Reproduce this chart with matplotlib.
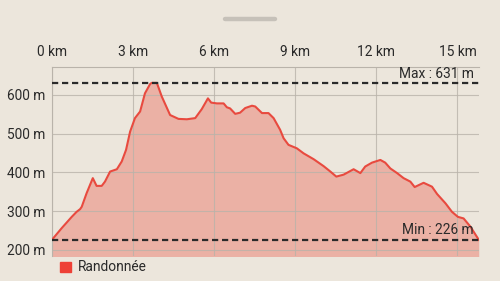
import matplotlib
matplotlib.use("Agg")
import matplotlib.pyplot as plt
from matplotlib.lines import Line2D
from matplotlib.patches import Rectangle

# elevation profile
dist_km = [0, 0.36, 0.73, 0.91, 1.04, 1.1, 1.28, 1.51, 1.65, 1.84, 1.96, 2.15, 2.4, 2.58,
           2.74, 2.89, 3.07, 3.26, 3.44, 3.63, 3.69, 3.88, 4.06, 4.37, 4.68, 4.99, 5.3,
           5.54, 5.77, 5.89, 6.1, 6.35, 6.47, 6.59, 6.78, 6.96, 7.15, 7.4, 7.52, 7.77,
           8.01, 8.2, 8.44, 8.57, 8.75, 9.06, 9.31, 9.68, 10.05, 10.3, 10.52, 10.79,
           11.16, 11.41, 11.59, 11.84, 12.15, 12.33, 12.52, 12.77, 13.01, 13.26, 13.42,
           13.75, 14.06, 14.25, 14.56, 14.8, 15.02, 15.23, 15.48, 15.79]
elev_m = [226, 256, 285, 298, 305, 311, 346, 385, 365, 365, 376, 402, 408, 428,
          458, 505, 540, 557, 604, 628, 631, 631, 596, 548, 538, 537, 540,
          563, 591, 580, 578, 578, 568, 565, 551, 554, 566, 572, 570, 553,
          553, 540, 510, 488, 471, 462, 449, 434, 416, 402, 389, 394,
          408, 398, 415, 425, 432, 425, 410, 398, 385, 376, 362,
          373, 363, 344, 320, 298, 285, 281, 260, 226]
x_ticks = [0, 3, 6, 9, 12, 15]
y_ticks = [200, 300, 400, 500, 600]
max_elev = 631
min_elev = 226
series_name = "Randonnée"

bg = "#ECE6DC"
grid_c = "#B9B3AA"
line_c = "#E84A3F"
fill_c = "#EBB1A5"
txt_c = "#2A2A2A"
fs = 9.9

plt.rcParams["font.family"] = ["Roboto", "DejaVu Sans"]

fig = plt.figure(figsize=(5, 2.81), dpi=100, facecolor=bg)
ax = fig.add_axes([0.104, 0.089, 0.854, 0.6726])
ax.set_facecolor(bg)

ax.fill_between(dist_km, elev_m, 0, color=fill_c, lw=0, zorder=1)
ax.plot(dist_km, elev_m, color=line_c, lw=1.5, zorder=3, solid_joinstyle="round")

dash = (0, (2.8, 1.7))
ax.axhline(max_elev, color=txt_c, lw=1.6, ls=dash, zorder=4)
ax.axhline(min_elev, color=txt_c, lw=1.6, ls=dash, zorder=4)
ax.text(15.6, max_elev + 6, "Max : %d m" % max_elev, ha="right", va="bottom",
        fontsize=fs, color=txt_c, zorder=5)
ax.text(15.6, min_elev + 6, "Min : %d m" % min_elev, ha="right", va="bottom",
        fontsize=fs, color=txt_c, zorder=5)

ax.set_xlim(0, 15.8)
ax.set_ylim(184, 672)
ax.set_xticks(x_ticks)
ax.set_xticklabels(["%d km" % v for v in x_ticks])
ax.set_yticks(y_ticks)
ax.set_yticklabels(["%d m" % v for v in y_ticks])
ax.xaxis.tick_top()
ax.tick_params(axis="x", length=0, pad=6, labelsize=fs, colors=txt_c)
ax.tick_params(axis="y", length=0, pad=5, labelsize=fs, colors=txt_c)
ax.grid(True, color=grid_c, lw=0.8, alpha=0.8, zorder=2)
ax.set_axisbelow(False)
for s in ["right", "bottom"]:
    ax.spines[s].set_visible(False)
for s in ["top", "left"]:
    ax.spines[s].set_color(grid_c)
    ax.spines[s].set_linewidth(0.8)

# legend, drawn by hand
fig.patches.append(Rectangle((60 / 500, 1 - 272 / 281), 10.5 / 500, 10.5 / 281,
                             transform=fig.transFigure, color="#EE4036"))
fig.text(78 / 500, 1 - 267 / 281, series_name, ha="left", va="center",
         fontsize=fs, color=txt_c)

# drag handle at the top
fig.lines.append(Line2D([225 / 500, 275 / 500], [1 - 19 / 281, 1 - 19 / 281],
                        transform=fig.transFigure, color="#C6C1B9", lw=3.2,
                        solid_capstyle="round"))

fig.savefig("out.png", dpi=100, facecolor=bg)
